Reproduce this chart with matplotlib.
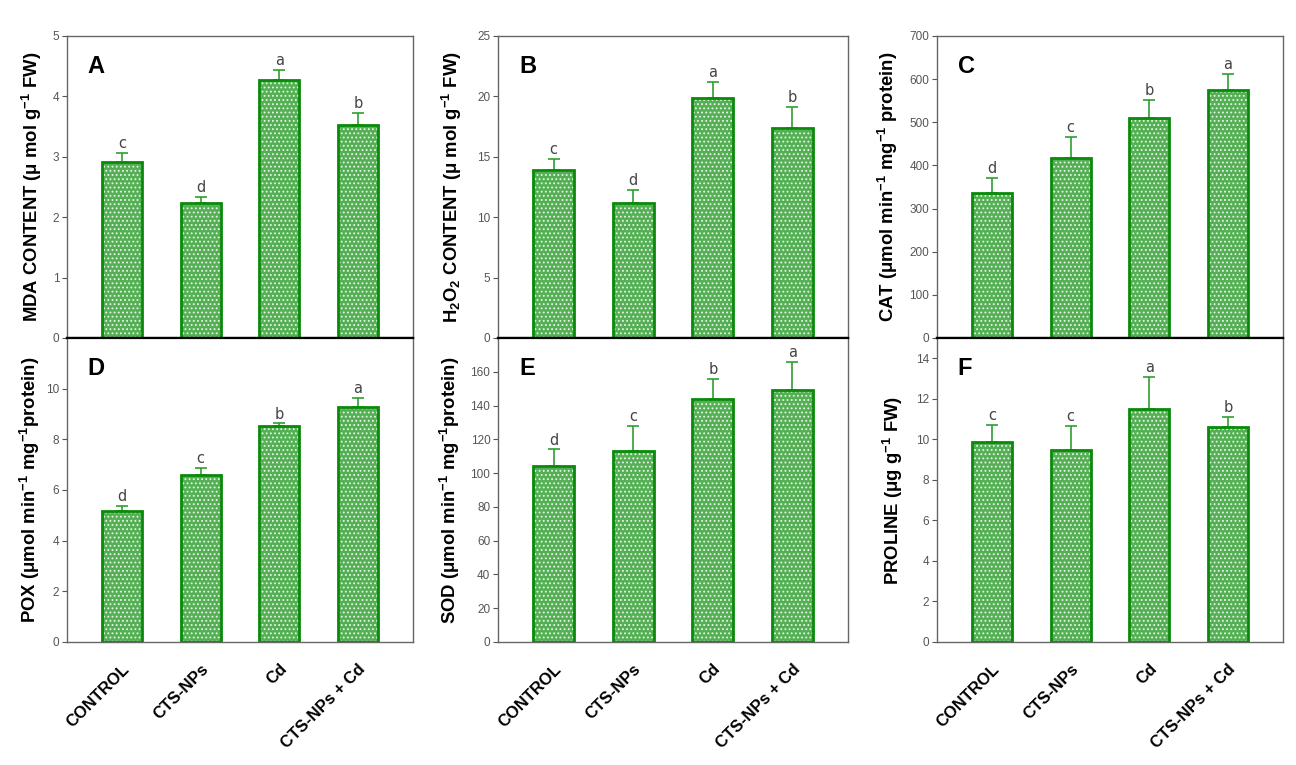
import numpy as np
import matplotlib
matplotlib.use("Agg")
import matplotlib.pyplot as plt

plt.rcParams['font.family'] = ['Liberation Sans', 'DejaVu Sans']
plt.rcParams['mathtext.fontset'] = 'custom'
plt.rcParams['mathtext.rm'] = 'Liberation Sans:bold'
plt.rcParams['mathtext.bf'] = 'Liberation Sans:bold'
plt.rcParams['mathtext.it'] = 'Liberation Sans:bold'
plt.rcParams['hatch.linewidth'] = 0.8

# dane
treatments = ['CONTROL', 'CTS-NPs', 'Cd', 'CTS-NPs + Cd']

mda = [2.92, 2.23, 4.27, 3.53]
mda_err = [0.14, 0.11, 0.17, 0.19]
mda_letters = ['c', 'd', 'a', 'b']

h2o2 = [13.9, 11.2, 19.9, 17.4]
h2o2_err = [0.95, 1.05, 1.3, 1.7]
h2o2_letters = ['c', 'd', 'a', 'b']

cat = [336, 418, 511, 575]
cat_err = [35, 49, 41, 38]
cat_letters = ['d', 'c', 'b', 'a']

pox = [5.17, 6.58, 8.54, 9.26]
pox_err = [0.19, 0.29, 0.09, 0.37]
pox_letters = ['d', 'c', 'b', 'a']

sod = [104, 113, 144, 149]
sod_err = [10, 15, 12, 17]
sod_letters = ['d', 'c', 'b', 'a']

proline = [9.87, 9.49, 11.52, 10.61]
proline_err = [0.86, 1.17, 1.57, 0.49]
proline_letters = ['c', 'c', 'a', 'b']

panels = [
    # (litera, wartosci, bledy, litery istotnosci, ylim, ticki, etykieta osi, x etykiety)
    ('A', mda, mda_err, mda_letters, 5, np.arange(0, 6, 1),
     'MDA CONTENT (μ mol g$^{-1}$ FW)', -0.100),
    ('B', h2o2, h2o2_err, h2o2_letters, 25, np.arange(0, 30, 5),
     'H$_2$O$_2$ CONTENT (μ mol g$^{-1}$ FW)', -0.133),
    ('C', cat, cat_err, cat_letters, 700, np.arange(0, 800, 100),
     'CAT (μmol min$^{-1}$ mg$^{-1}$ protein)', -0.142),
    ('D', pox, pox_err, pox_letters, 12, np.arange(0, 12, 2),
     'POX (μmol min$^{-1}$ mg$^{-1}$protein)', -0.108),
    ('E', sod, sod_err, sod_letters, 180, np.arange(0, 180, 20),
     'SOD (μmol min$^{-1}$ mg$^{-1}$protein)', -0.138),
    ('F', proline, proline_err, proline_letters, 15, np.arange(0, 16, 2),
     'PROLINE (μg g$^{-1}$ FW)', -0.128),
]

fig = plt.figure(figsize=(12.96, 7.65), dpi=100)

lefts = [67 / 1296, 498 / 1296, 937 / 1296]
widths = [346 / 1296, 350 / 1296, 346 / 1296]
top_bottom = 1 - 338 / 765
top_height = (338 - 36) / 765
bot_bottom = 1 - 642 / 765
bot_height = (642 - 338) / 765

edge_green = '#0a8a0a'
fill_green = '#55b055'
gray = '#555555'

x = np.arange(len(treatments))

for i, (tag, vals, errs, letters, ymax, ticks, ylabel, lx) in enumerate(panels):
    col = i % 3
    row = i // 3
    if row == 0:
        ax = fig.add_axes([lefts[col], top_bottom, widths[col], top_height])
    else:
        ax = fig.add_axes([lefts[col], bot_bottom, widths[col], bot_height])

    vals = np.array(vals)
    errs = np.array(errs)

    # tlo z kropkami (hatch bialy) + obrys zielony
    ax.bar(x, vals, width=0.51, color=fill_green, edgecolor='#e8f5e8',
           hatch='....', linewidth=0, zorder=2)
    ax.bar(x, vals, width=0.51, facecolor='none', edgecolor=edge_green,
           linewidth=2.0, zorder=3)
    ax.errorbar(x, vals, yerr=[np.zeros_like(errs), errs], fmt='none',
                ecolor='#2f9e2f', elinewidth=1.2, capsize=4, capthick=1.2,
                zorder=1)

    for xi, v, e, l in zip(x, vals, errs, letters):
        ax.text(xi, v + e + ymax * 0.006, l, ha='center', va='bottom',
                fontsize=10.5, color='#444444', family='DejaVu Sans')

    ax.text(0.06, 0.90, tag, transform=ax.transAxes, fontsize=17,
            fontweight='bold', ha='left', va='center')

    ax.set_xlim(-0.7, 3.7)
    ax.set_ylim(0, ymax)
    ax.set_yticks(ticks)
    ax.tick_params(axis='y', direction='out', length=3.5, width=0.8,
                   colors=gray, labelsize=8.5, pad=2)
    ax.tick_params(axis='x', length=0)

    for s in ax.spines.values():
        s.set_color('#666666')
        s.set_linewidth(1.0)
    if row == 0:
        ax.spines['bottom'].set_color('black')
        ax.spines['bottom'].set_linewidth(1.6)
        ax.set_xticks([])
    else:
        ax.spines['top'].set_color('black')
        ax.spines['top'].set_linewidth(1.6)
        ax.set_xticks(x)
        ax.set_xticklabels(treatments, rotation=45, ha='right',
                           rotation_mode='anchor', fontsize=12,
                           fontweight='bold')
        ax.tick_params(axis='x', pad=14)

    ax.text(lx, 0.5, ylabel, transform=ax.transAxes, rotation=90,
            ha='center', va='center', fontsize=13.3, fontweight='bold')

fig.savefig('out.png', dpi=100)
